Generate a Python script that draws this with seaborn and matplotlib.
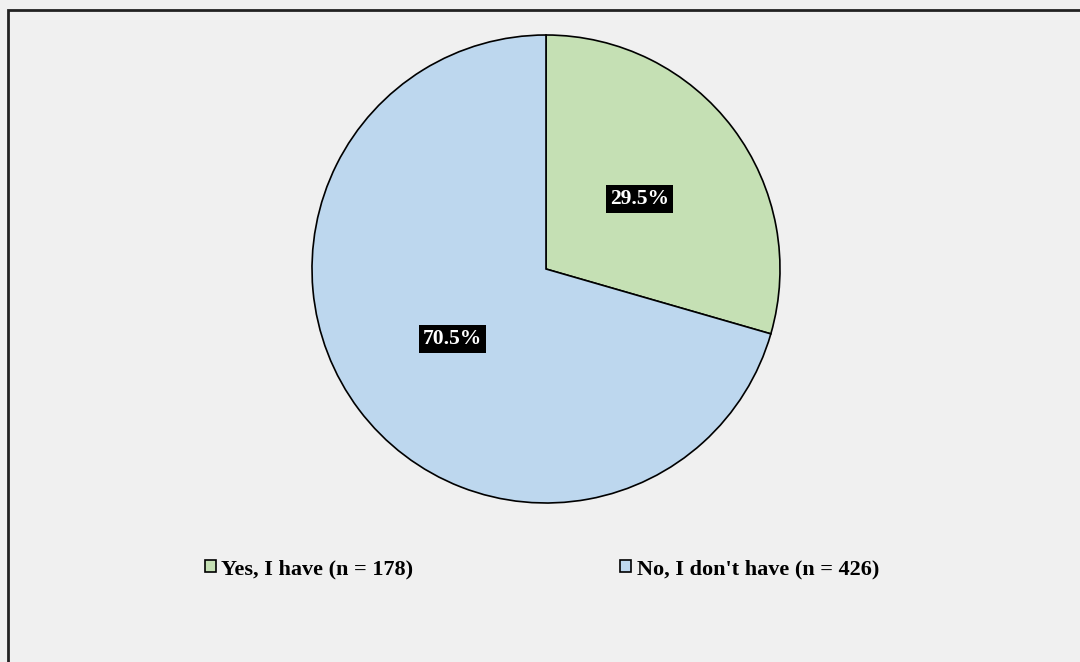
import matplotlib
matplotlib.use("Agg")
import matplotlib.pyplot as plt
import seaborn as sns
import numpy as np
from matplotlib.patches import Patch, Rectangle

categories = ["Yes, I have (n = 178)", "No, I don't have (n = 426)"]
counts = [178, 426]
percent_labels = ["29.5%", "70.5%"]
colors = ["#c5e0b4", "#bdd7ee"]

sns.set_theme(style="white")
plt.rcParams["font.family"] = ["Liberation Serif", "DejaVu Serif"]
plt.rcParams["font.weight"] = "bold"
plt.rcParams["text.color"] = "black"

W, H = 1080, 662
fig = plt.figure(figsize=(W / 100, H / 100), dpi=100)
fig.patch.set_facecolor("#f0f0f0")

cx, cy, r = 546, 269, 234
ax = fig.add_axes([(cx - r) / W, (H - cy - r) / H, 2 * r / W, 2 * r / H])
ax.set_facecolor("none")

wedges, texts = ax.pie(
    counts, colors=colors, startangle=90, counterclock=False,
    wedgeprops=dict(edgecolor="black", linewidth=1.2),
    radius=1.0,
)
for w, lab in zip(wedges, percent_labels):
    ang = np.deg2rad((w.theta1 + w.theta2) / 2)
    ax.text(0.5 * np.cos(ang), 0.5 * np.sin(ang), lab, ha="center", va="center",
            color="white", fontsize=15.5, fontweight="bold",
            bbox=dict(boxstyle="square,pad=0.18", facecolor="black", edgecolor="none"))
ax.set_xlim(-1, 1)
ax.set_ylim(-1, 1)
ax.set_aspect("equal")
ax.axis("off")

handles = [Patch(facecolor=c, edgecolor="black", linewidth=1.2) for c in colors]
leg = fig.legend(handles, categories, loc="center", bbox_to_anchor=(542 / W, 1 - 569 / H),
                 ncol=2, frameon=False, columnspacing=9.3, handlelength=0.5,
                 handleheight=0.5, handletextpad=0.25,
                 prop=dict(family="Liberation Serif", weight="bold", size=16))
for t in leg.get_texts():
    t.set_color("black")

fig.add_artist(Rectangle((8 / W, -0.05), 1.1, 1 - 10 / H + 0.05, transform=fig.transFigure,
                         fill=False, edgecolor="#222222", linewidth=2))

fig.savefig("out.png", dpi=100, facecolor=fig.get_facecolor())
